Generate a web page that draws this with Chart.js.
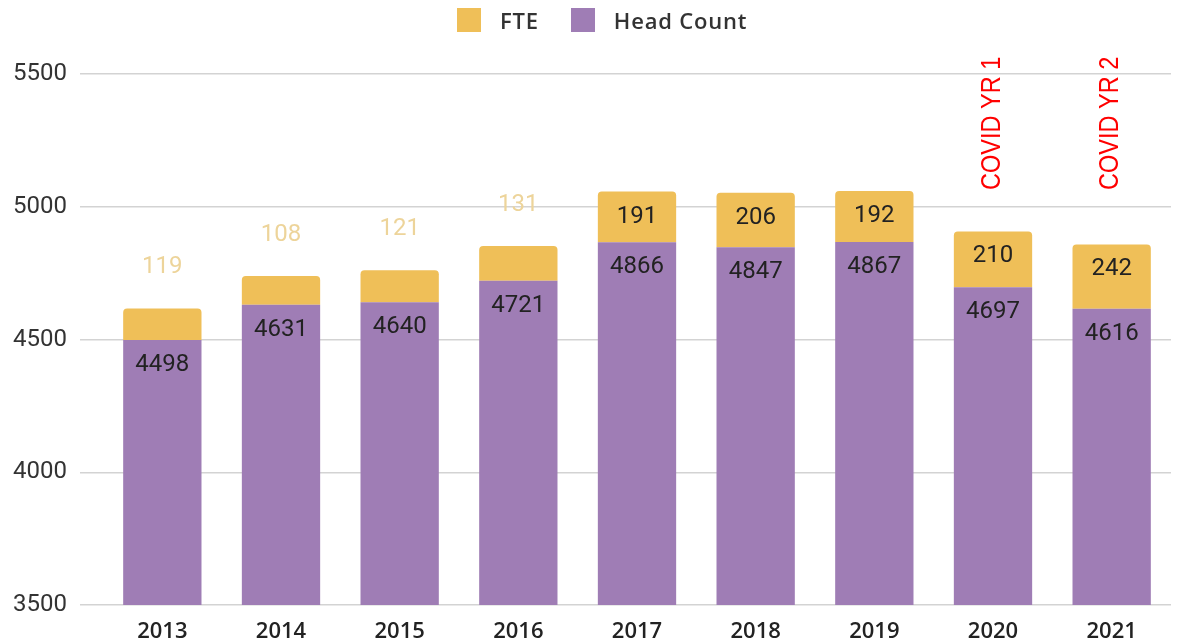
<!DOCTYPE html>
<html>
<head>
<meta charset="utf-8">
<script src="https://cdn.jsdelivr.net/npm/chart.js@4.4.1/dist/chart.umd.min.js"></script>
<style>
  html, body { margin: 0; padding: 0; background: #fff; }
  #wrap { position: relative; width: 1182px; height: 639px; }
  #legend { position: absolute; top: 8px; left: 457px; display: flex; align-items: center;
    font-family: "Open Sans", sans-serif; font-weight: 600; font-size: 22px; letter-spacing: 0.8px; color: #333; }
  #legend .box { width: 24px; height: 24px; display: inline-block; margin-right: 19px; }
  #legend .item { display: flex; align-items: center; margin-right: 32px; line-height: 24px; }
</style>
</head>
<body>
<div id="wrap">
  <canvas id="chart"></canvas>
  <div id="legend"></div>
</div>
<script>
// chart values
const years = ['2013', '2014', '2015', '2016', '2017', '2018', '2019', '2020', '2021'];
const headCount = [4498, 4631, 4640, 4721, 4866, 4847, 4867, 4697, 4616];
const fte = [119, 108, 121, 131, 191, 206, 192, 210, 242];
const notes = ['', '', '', '', '', '', '', 'COVID YR 1', 'COVID YR 2'];
const yMin = 3500;
const yMax = 5500;
const yStep = 500;

const YELLOW = '#EFBF58';
const PURPLE = '#9F7DB5';

(function () {
  function $(id) { return document.getElementById(id); }

  // html legend, FTE first like the original
  const legendItems = [['FTE', YELLOW], ['Head Count', PURPLE]];
  $('legend').innerHTML = legendItems.map(it =>
    '<span class="item"><span class="box" style="background:' + it[1] + '"></span>' + it[0] + '</span>'
  ).join('');

  // value labels on the bars
  const barLabels = {
    id: 'barLabels',
    afterDatasetsDraw(chart) {
      const ctx = chart.ctx;
      ctx.save();
      ctx.font = '24px Roboto, sans-serif';
      ctx.textAlign = 'center';
      ctx.textBaseline = 'middle';
      chart.data.datasets.forEach((ds, di) => {
        const meta = chart.getDatasetMeta(di);
        meta.data.forEach((bar, i) => {
          const v = ds.data[i];
          const h = bar.base - bar.y;
          if (ds.label === 'FTE' && h < 45) {
            ctx.fillStyle = '#EDD49A';
            ctx.fillText(String(v), bar.x, bar.y - 41);
          } else {
            ctx.fillStyle = '#222';
            ctx.fillText(String(v), bar.x, bar.y + 25);
          }
        });
      });
      ctx.restore();
    }
  };

  // red rotated notes over the covid years
  const yearNotes = {
    id: 'yearNotes',
    afterDraw(chart) {
      const ctx = chart.ctx;
      const xs = chart.scales.x;
      ctx.save();
      ctx.font = '28px "Liberation Sans", Arial, sans-serif';
      ctx.fillStyle = '#FF0000';
      ctx.textAlign = 'left';
      ctx.textBaseline = 'middle';
      notes.forEach((t, i) => {
        if (!t) return;
        ctx.save();
        ctx.translate(xs.getPixelForValue(i) - 1, 190);
        ctx.rotate(-Math.PI / 2);
        ctx.scale(0.84, 1);
        ctx.fillText(t, 0, 0);
        ctx.restore();
      });
      ctx.restore();
    }
  };

  new Chart($('chart').getContext('2d'), {
    type: 'bar',
    data: {
      labels: years,
      datasets: [
        {
          label: 'Head Count',
          data: headCount,
          backgroundColor: PURPLE,
          borderWidth: 0
        },
        {
          label: 'FTE',
          data: fte,
          backgroundColor: YELLOW,
          borderWidth: 0,
          borderRadius: { topLeft: 4, topRight: 4, bottomLeft: 0, bottomRight: 0 },
          borderSkipped: 'bottom'
        }
      ]
    },
    options: {
      responsive: true,
      maintainAspectRatio: false,
      animation: false,
      layout: { padding: { top: 74, right: 11, bottom: 0, left: 0 } },
      datasets: { bar: { categoryPercentage: 1, barPercentage: 0.66 } },
      plugins: {
        legend: { display: false },
        tooltip: { enabled: false }
      },
      scales: {
        x: {
          stacked: true,
          afterFit: s => { s.height = 34; },
          grid: { display: false, drawTicks: false, tickLength: 0 },
          border: { display: false },
          ticks: {
            padding: 14,
            color: '#222',
            font: { family: '"Open Sans", sans-serif', size: 22, weight: 600 }
          }
        },
        y: {
          stacked: true,
          min: yMin,
          max: yMax,
          afterFit: s => { s.width = 103; },
          grid: { color: '#D3D3D3', lineWidth: 1.5, drawTicks: true, tickLength: 23, tickColor: '#D3D3D3' },
          border: { display: false },
          ticks: {
            stepSize: yStep,
            padding: 13,
            color: '#333',
            font: { family: 'Roboto, sans-serif', size: 24 },
            callback: v => String(v)
          }
        }
      }
    },
    plugins: [barLabels, yearNotes]
  });
})();
</script>
</body>
</html>
